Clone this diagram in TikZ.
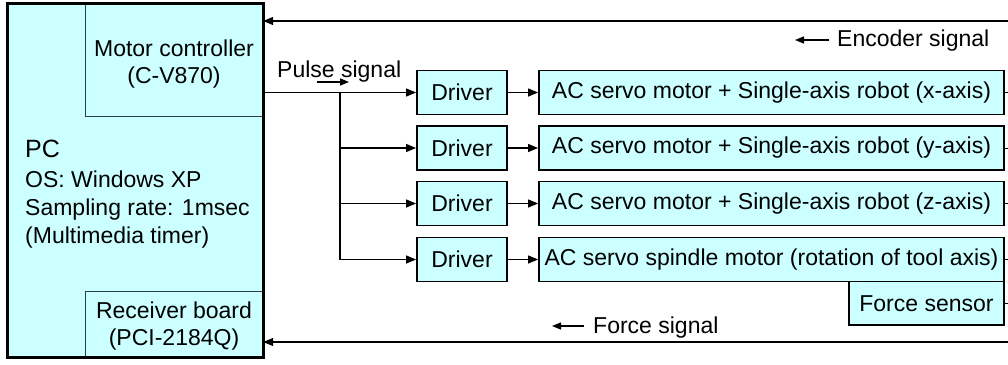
\documentclass[tikz,border=0pt]{standalone}
\usepackage{fontspec}
\setmainfont{Liberation Sans}
\usetikzlibrary{arrows.meta}
\definecolor{boxfill}{HTML}{CCFFFF}
\definecolor{subline}{HTML}{2F3F3F}
\begin{document}
\begin{tikzpicture}[x=1pt,y=-1pt,
  font=\fontsize{23}{27}\selectfont,
  txt/.style={inner sep=0pt,anchor=base west},
  ctxt/.style={inner sep=0pt,anchor=base},
  unit/.style={draw=black,line width=1.9pt,fill=boxfill,inner sep=0pt,minimum height=44pt},
  subbox/.style={draw=subline,line width=0.9pt,fill=boxfill,inner sep=0pt},
  wire/.style={line width=1.3pt},
  feed/.style={wire,-{Triangle[length=10pt,width=8pt]}},
  hint/.style={line width=1.3pt,-{Triangle[length=9pt,width=7pt]}}]
\useasboundingbox (0,0) rectangle (1008,364);

% PC enclosure and its two boards
\node (pc) [fill=boxfill,inner sep=0pt,minimum width=255pt,minimum height=353pt] at (135.5,180.5) {};
\node (mc) [subbox,minimum width=178pt,minimum height=112pt] at (174,60) {};
\node (rb) [subbox,minimum width=178pt,minimum height=66pt] at (174,324) {};
\draw[line width=2.9pt] (pc.north west) rectangle (pc.south east);

\node (mc1) [ctxt] at (174,56) {Motor controller};
\node (mc2) [ctxt] at (174,83) {(C-V870)};
\node (rb1) [ctxt] at (174,318) {Receiver board};
\node (rb2) [ctxt] at (174,345) {(PCI-2184Q)};

\node (pct) [txt,font=\fontsize{25}{30}\selectfont] at (25,157) {PC};
\node (os) [txt] at (25,187) {OS: Windows XP};
\node (sr) [txt] at (25,215) {Sampling rate: 1msec};
\node (mm) [txt] at (25,243) {(Multimedia timer)};

% drivers and actuators
\node (d1) [unit,minimum width=90pt] at (462,92.5) {Driver};
\node (d2) [unit,minimum width=90pt] at (462,148) {Driver};
\node (d3) [unit,minimum width=90pt] at (462,203.5) {Driver};
\node (d4) [unit,minimum width=90pt] at (462,259.5) {Driver};

\node (m1) [unit,minimum width=465pt] at (771.5,92.5) {AC servo motor + Single-axis robot (x-axis)};
\node (m2) [unit,minimum width=465pt] at (771.5,148) {AC servo motor + Single-axis robot (y-axis)};
\node (m3) [unit,minimum width=465pt] at (771.5,203.5) {AC servo motor + Single-axis robot (z-axis)};
\node (m4) [unit,minimum width=465pt] at (771.5,259.5) {AC servo spindle motor (rotation of tool axis)};
\node (fs) [unit,minimum width=155pt,minimum height=43.5pt] at (926.5,303.25) {Force sensor};

% pulse distribution
\coordinate (br) at (340,92.5);
\draw[feed] (mc.east |- d1) -- (d1.west);
\draw[wire] (br) -- (br |- d4);
\draw[feed] (br |- d2) -- (d2.west);
\draw[feed] (br |- d3) -- (d3.west);
\draw[feed] (br |- d4) -- (d4.west);
\foreach \i in {1,2,3,4}{
  \draw[feed] (d\i.east) -- (m\i.west);
}

% feedback stubs on the right side
\coordinate (e1) at (1008,92.5);
\coordinate (e2) at (1008,148);
\coordinate (e3) at (1008,203.5);
\coordinate (e4) at (1008,259.5);
\coordinate (e5) at (1008,303.25);
\foreach \i in {1,2,3,4}{
  \draw[line width=0.8pt] (m\i.east) -- (e\i);
}
\draw[line width=0.8pt] (fs.east) -- (e5);

% feedback signals back to the PC
\coordinate (encR) at (1008,21);
\coordinate (forR) at (1008,342);
\draw[feed] (encR) -- (pc.east |- encR);
\draw[feed] (forR) -- (pc.east |- forR);

% signal labels
\coordinate (ea) at (829,40);
\coordinate (eb) at (795,40);
\draw[hint] (ea) -- (eb);
\node (enc) [txt] at (837,46) {Encoder signal};

\coordinate (pa) at (317,82);
\coordinate (pb) at (349,82);
\draw[hint] (pa) -- (pb);
\node (pul) [txt] at (277,77) {Pulse signal};

\coordinate (fa) at (584,326);
\coordinate (fb) at (552,326);
\draw[hint] (fa) -- (fb);
\node (for) [txt] at (593,333) {Force signal};
\end{tikzpicture}
\end{document}
